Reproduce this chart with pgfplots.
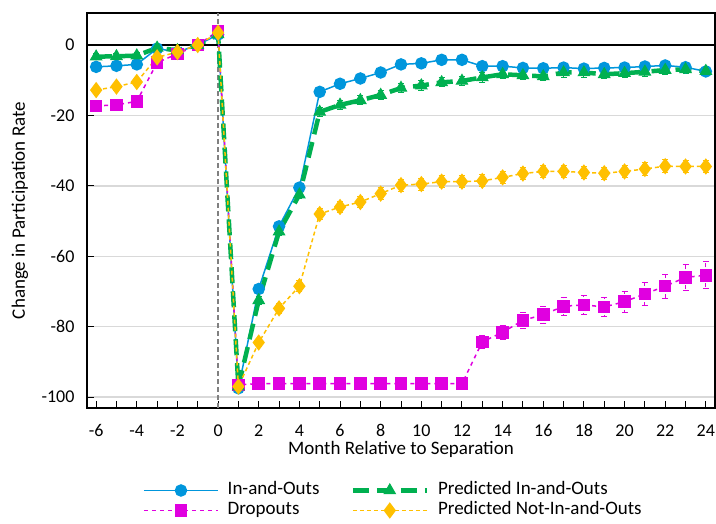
\documentclass[border=0pt]{standalone}
\usepackage{pgfplots}
\pgfplotsset{compat=1.18}
\usepackage{pgfplotstable}
\usepackage{fontspec}
\setmainfont{Carlito}
\definecolor{cblue}{RGB}{0,150,220}
\definecolor{cmag}{RGB}{224,0,224}
\definecolor{cgreen}{RGB}{0,176,80}
\definecolor{cyel}{RGB}{255,192,0}
\definecolor{cgrid}{RGB}{217,217,217}

\pgfplotstableread{
x y
-6 -6.2
-5 -5.9
-4 -5.5
-3 -1.0
-2 -2.0
-1 0
0 3
1 -97.5
2 -69.3
3 -51.5
4 -40.5
5 -13.3
6 -11
7 -9.5
8 -7.8
9 -5.5
10 -5.2
11 -4.2
12 -4.2
13 -6
14 -6
15 -6.5
16 -6.6
17 -6.4
18 -6.7
19 -6.5
20 -6.4
21 -6.1
22 -5.8
23 -6.3
24 -7.5
}\inout

\pgfplotstableread{
x y e
-6 -3.3 0.8
-5 -3.2 0.8
-4 -3.0 0.8
-3 -0.8 0.8
-2 -1.5 0.8
-1 0 0
0 3 0.8
1 -97 0.8
2 -72.5 1.2
3 -53 1.2
4 -42.5 1.2
5 -19 1.3
6 -17 1.3
7 -15.7 1.3
8 -14.2 1.3
9 -12.2 1.3
10 -11.5 1.3
11 -10.6 1.3
12 -10.2 1.3
13 -9.2 1.3
14 -8.3 1.3
15 -8.6 1.3
16 -8.9 1.3
17 -7.8 1.3
18 -7.8 1.3
19 -8.3 1.3
20 -8.0 1.3
21 -7.6 1.3
22 -7.1 1.3
23 -6.9 1.3
24 -7.4 1.3
}\predin

\pgfplotstableread{
x y e
-6 -17.3 1.0
-5 -17 1.0
-4 -16 1.0
-3 -5 1.0
-2 -2.5 1.0
-1 0 0
0 4 1.0
1 -96.5 0.8
2 -96.2 0.8
3 -96.2 0.8
4 -96.2 0.8
5 -96.2 0.8
6 -96.2 0.8
7 -96.2 0.8
8 -96.2 0.8
9 -96.2 0.8
10 -96.2 0.8
11 -96.2 0.8
12 -96.2 0.8
13 -84.3 1.8
14 -81.6 2.0
15 -78.2 2.2
16 -76.6 2.4
17 -74.2 2.6
18 -73.8 2.7
19 -74.4 2.8
20 -72.9 3.0
21 -70.7 3.2
22 -68.5 3.4
23 -66 3.6
24 -65.4 3.8
}\dropout

\pgfplotstableread{
x y e
-6 -12.8 1.0
-5 -11.8 1.0
-4 -10.5 1.0
-3 -3.5 1.0
-2 -2 1.0
-1 0 0
0 3.5 1.0
1 -97 0.8
2 -84.5 1.2
3 -74.8 1.4
4 -68.5 1.5
5 -48 1.6
6 -46 1.6
7 -44.6 1.6
8 -42.2 1.6
9 -39.8 1.7
10 -39.5 1.7
11 -38.8 1.7
12 -38.8 1.7
13 -38.6 1.7
14 -37.6 1.7
15 -36.5 1.7
16 -35.9 1.7
17 -35.9 1.7
18 -36.2 1.7
19 -36.4 1.7
20 -35.9 1.8
21 -35.2 1.8
22 -34.4 1.8
23 -34.5 1.8
24 -34.5 1.8
}\prednot

\begin{document}
\begin{tikzpicture}
\begin{axis}[
  name=ax,
  scale only axis,
  width=628pt, height=395pt,
  xmin=-6.45, xmax=24.45,
  ymin=-103.1, ymax=9.1,
  xtick={-6,-4,...,24},
  minor xtick={-5,-3,...,23},
  ytick={-100,-80,...,0},
  tick align=inside,
  major tick length=7pt,
  minor tick length=7pt,
  tick style={black, line width=1pt},
  xtick pos=bottom, ytick pos=left,
  ymajorgrids,
  major grid style={cgrid, line width=1.5pt},
  axis line style={black, line width=1.3pt},
  /pgf/number format/assume math mode=true,
  tick label style={font=\fontsize{18}{20}\selectfont},
  xticklabel style={yshift=-13pt},
  yticklabel style={xshift=-9pt},
  label style={font=\fontsize{19}{22}\selectfont},
  xlabel={Month Relative to Separation},
  ylabel={Change in Participation Rate},
  xlabel style={at={(axis description cs:0.5,-0.106)}, anchor=center},
  ylabel style={at={(axis description cs:-0.107,0.5)}, anchor=center},
  legend columns=2,
  transpose legend,
  legend cell align=left,
  legend image code/.code={\draw[mark repeat=2,mark phase=2,#1] plot coordinates {(0pt,0pt) (37pt,0pt) (74pt,0pt)};},
  legend style={
    at={(axis description cs:0.0892,-0.183)}, anchor=north west,
    draw=none, fill=none, inner sep=0pt,
    font=\fontsize{19}{22}\selectfont,
    nodes={inner sep=1pt, text height=13.5pt, text depth=4.5pt},
    /tikz/every odd column/.append style={column sep=8pt},
    /tikz/every even column/.append style={column sep=30pt},
  },
  error bars/error bar style={line width=1pt},
  error bars/error mark options={rotate=90, mark size=3pt, line width=1pt},
]
\draw[gray, dashed, line width=1.5pt, dash pattern=on 5pt off 3pt] (axis cs:0,-103.1) -- (axis cs:0,9.1);
\draw[black, line width=1.6pt] (axis cs:-6.45,0) -- (axis cs:24.45,0);

\addplot[cblue, line width=1.5pt, mark=*, mark size=5.5pt, mark options={solid}]
  table[x=x,y=y]{\inout};
\addlegendentry{In-and-Outs}

\addplot[cmag, line width=1.5pt, dash pattern=on 4pt off 4pt, mark=square*, mark size=5.5pt, mark options={solid},
  error bars/.cd, y dir=both, y explicit]
  table[x=x,y=y,y error=e]{\dropout};
\addlegendentry{Dropouts}

\addplot[cgreen, line width=4.5pt, dash pattern=on 16pt off 8pt, mark=triangle*, mark size=6.5pt, mark options={solid, line width=1pt},
  error bars/.cd, y dir=both, y explicit]
  table[x=x,y=y,y error=e]{\predin};
\addlegendentry{Predicted In-and-Outs}

\addplot[cyel, line width=1.5pt, dash pattern=on 4pt off 3pt, mark=diamond*, mark size=7pt, mark options={solid},
  error bars/.cd, y dir=both, y explicit]
  table[x=x,y=y,y error=e]{\prednot};
\addlegendentry{Predicted Not-In-and-Outs}
\end{axis}
\pgfresetboundingbox
\path ([shift={(-87pt,-115pt)}]ax.south west) rectangle ([shift={(1pt,13pt)}]ax.north east);
\end{tikzpicture}
\end{document}
